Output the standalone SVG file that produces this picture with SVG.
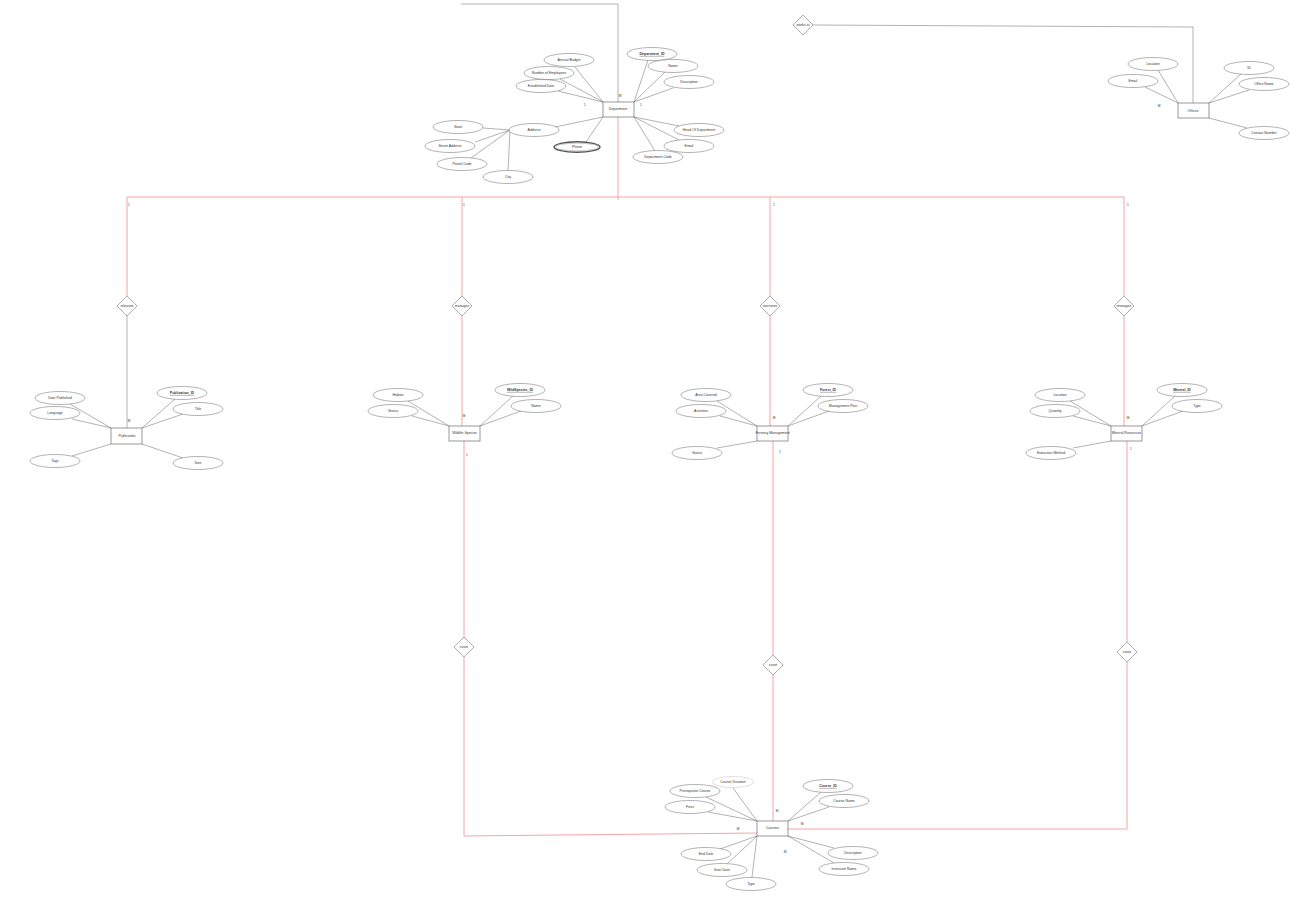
<svg xmlns="http://www.w3.org/2000/svg" width="1307" height="898" viewBox="0 0 1307 898">
<style>
text{font-family:"Liberation Sans",Arial,sans-serif;font-size:3.5px;fill:#333;text-anchor:middle;dominant-baseline:middle}
.ent rect{fill:#fff;stroke:#555;stroke-width:0.6}
.att{fill:#fff;stroke:#666;stroke-width:0.5}
.dia{fill:#fff;stroke:#777;stroke-width:0.6}
.ln{stroke:#666;stroke-width:0.5;fill:none}
.rd{stroke:#f59a9a;stroke-width:0.9;fill:none}
.key{text-decoration:underline;font-weight:bold}
.card{font-size:3.2px}
</style>
<rect width="1307" height="898" fill="#fff"/>
<g id="connectors">
<polyline class="ln" points="618,102 618,4 461,4"/>
<polyline class="ln" points="1193,103 1193,27 813,25"/>
<line class="rd" x1="618" y1="117" x2="618" y2="200"/>
<polyline class="rd" points="127,296 127,197 1124,197 1124,296"/>
<line class="rd" x1="462" y1="197" x2="462" y2="296"/>
<line class="rd" x1="770" y1="197" x2="770" y2="296"/>
<line class="ln" x1="127" y1="316" x2="127" y2="428"/>
<line class="rd" x1="462" y1="316" x2="462" y2="426"/>
<line class="rd" x1="770" y1="316" x2="770" y2="426"/>
<line class="rd" x1="1124" y1="316" x2="1124" y2="426"/>
<line class="rd" x1="464" y1="441" x2="464" y2="637"/>
<polyline class="rd" points="464,657 464,836 757,833"/>
<line class="rd" x1="773" y1="441" x2="773" y2="655"/>
<line class="rd" x1="773" y1="675" x2="773" y2="821"/>
<line class="rd" x1="1127" y1="441" x2="1127" y2="642"/>
<polyline class="rd" points="1127,662 1127,829 788,829"/>
<line class="ln" x1="575" y1="67" x2="603" y2="102"/>
<line class="ln" x1="560" y1="79" x2="603" y2="102"/>
<line class="ln" x1="558" y1="91" x2="603" y2="102"/>
<line class="ln" x1="648" y1="60" x2="634" y2="102"/>
<line class="ln" x1="665" y1="72" x2="634" y2="102"/>
<line class="ln" x1="673" y1="88" x2="634" y2="102"/>
<line class="ln" x1="679" y1="126" x2="634" y2="117"/>
<line class="ln" x1="679" y1="140" x2="634" y2="117"/>
<line class="ln" x1="655" y1="151" x2="634" y2="117"/>
<line class="ln" x1="586" y1="142" x2="603" y2="117"/>
<line class="ln" x1="555" y1="127" x2="603" y2="117"/>
<line class="ln" x1="510" y1="130" x2="483" y2="128"/>
<line class="ln" x1="510" y1="130" x2="475" y2="142"/>
<line class="ln" x1="510" y1="130" x2="471" y2="158"/>
<line class="ln" x1="510" y1="130" x2="508" y2="171"/>
<line class="ln" x1="1158" y1="70" x2="1178" y2="103"/>
<line class="ln" x1="1145" y1="87" x2="1178" y2="103"/>
<line class="ln" x1="1241" y1="74" x2="1209" y2="103"/>
<line class="ln" x1="1249" y1="90" x2="1209" y2="103"/>
<line class="ln" x1="1247" y1="128" x2="1209" y2="118"/>
<line class="ln" x1="70" y1="404" x2="111" y2="428"/>
<line class="ln" x1="72" y1="419" x2="111" y2="428"/>
<line class="ln" x1="175" y1="399" x2="142" y2="428"/>
<line class="ln" x1="183" y1="414" x2="142" y2="428"/>
<line class="ln" x1="72" y1="456" x2="111" y2="444"/>
<line class="ln" x1="183" y1="458" x2="142" y2="444"/>
<line class="ln" x1="408" y1="401" x2="449" y2="426"/>
<line class="ln" x1="412" y1="416" x2="449" y2="426"/>
<line class="ln" x1="513" y1="396" x2="480" y2="426"/>
<line class="ln" x1="521" y1="411" x2="480" y2="426"/>
<line class="ln" x1="717" y1="401" x2="757" y2="426"/>
<line class="ln" x1="720" y1="416" x2="757" y2="426"/>
<line class="ln" x1="821" y1="396" x2="788" y2="426"/>
<line class="ln" x1="829" y1="411" x2="788" y2="426"/>
<line class="ln" x1="717" y1="448" x2="757" y2="441"/>
<line class="ln" x1="1070" y1="401" x2="1111" y2="426"/>
<line class="ln" x1="1073" y1="416" x2="1111" y2="426"/>
<line class="ln" x1="1175" y1="396" x2="1142" y2="426"/>
<line class="ln" x1="1183" y1="411" x2="1142" y2="426"/>
<line class="ln" x1="1073" y1="448" x2="1111" y2="441"/>
<line class="ln" x1="733" y1="788" x2="757" y2="821"/>
<line class="ln" x1="706" y1="797" x2="757" y2="821"/>
<line class="ln" x1="708" y1="812" x2="757" y2="821"/>
<line class="ln" x1="821" y1="792" x2="788" y2="821"/>
<line class="ln" x1="829" y1="807" x2="788" y2="821"/>
<line class="ln" x1="720" y1="849" x2="757" y2="836"/>
<line class="ln" x1="727" y1="864" x2="757" y2="836"/>
<line class="ln" x1="752" y1="877" x2="757" y2="836"/>
<line class="ln" x1="834" y1="848" x2="788" y2="836"/>
<line class="ln" x1="834" y1="863" x2="788" y2="836"/>
<text class="card" x="620" y="96">M</text>
<text class="card" x="585" y="105">1</text>
<text class="card" x="641" y="105">1</text>
<text class="card" x="1159" y="106">M</text>
<text class="card" x="129" y="205">1</text>
<text class="card" x="464" y="205">1</text>
<text class="card" x="774" y="205">1</text>
<text class="card" x="1128" y="205">1</text>
<text class="card" x="129" y="421">M</text>
<text class="card" x="464" y="416">M</text>
<text class="card" x="467" y="455">1</text>
<text class="card" x="774" y="418">M</text>
<text class="card" x="780" y="452">1</text>
<text class="card" x="1128" y="418">M</text>
<text class="card" x="1131" y="449">1</text>
<text class="card" x="738" y="829">M</text>
<text class="card" x="777" y="811">M</text>
<text class="card" x="802" y="824">M</text>
<text class="card" x="785" y="852">M</text>
</g>
<g id="rel-works-at"><polygon class="dia" points="803,15 813,25 803,35 793,25"/><text x="803" y="25">works at</text></g>
<g id="rel-releases"><polygon class="dia" points="127,296 137,306 127,316 117,306"/><text x="127" y="306" font-size="3">releases</text></g>
<g id="rel-manages-1"><polygon class="dia" points="462,296 472,306 462,316 452,306"/><text x="462" y="306" font-size="3">manages</text></g>
<g id="rel-oversees"><polygon class="dia" points="770,296 780,306 770,316 760,306"/><text x="770" y="306" font-size="3">oversees</text></g>
<g id="rel-manages-2"><polygon class="dia" points="1124,296 1134,306 1124,316 1114,306"/><text x="1124" y="306" font-size="3">manages</text></g>
<g id="rel-cover-1"><polygon class="dia" points="464,637 474,647 464,657 454,647"/><text x="464" y="647" font-size="3">cover</text></g>
<g id="rel-cover-2"><polygon class="dia" points="773,655 783,665 773,675 763,665"/><text x="773" y="665" font-size="3">cover</text></g>
<g id="rel-cover-3"><polygon class="dia" points="1127,642 1137,652 1127,662 1117,652"/><text x="1127" y="652" font-size="3">cover</text></g>
<g id="department" class="ent"><rect x="603" y="102" width="31" height="15"/><text x="618" y="109.5">Department</text></g>
<g id="dept-attrs">
<ellipse class="att" cx="569" cy="60" rx="25" ry="6.5"/><text x="569" y="60">Annual Budget</text>
<ellipse class="att" cx="549" cy="73" rx="25" ry="6.5"/><text x="549" y="73">Number of Employees</text>
<ellipse class="att" cx="541" cy="86" rx="25" ry="6.5"/><text x="541" y="86">Established Date</text>
<ellipse class="att" cx="652" cy="54" rx="25" ry="6.5"/><text class="key" x="652" y="54">Department_ID</text>
<ellipse class="att" cx="673" cy="66" rx="25" ry="6.5"/><text x="673" y="66">Name</text>
<ellipse class="att" cx="689" cy="82" rx="25" ry="6.5"/><text x="689" y="82">Description</text>
<ellipse class="att" cx="699" cy="130" rx="25" ry="6.5"/><text x="699" y="130">Head Of Department</text>
<ellipse class="att" cx="689" cy="146" rx="25" ry="6.5"/><text x="689" y="146">Email</text>
<ellipse class="att" cx="658" cy="157" rx="25" ry="6.5"/><text x="658" y="157">Department Code</text>
<ellipse cx="577" cy="147" rx="23" ry="5.2" fill="#fff" stroke="#555" stroke-width="1.4"/><ellipse cx="577" cy="147" rx="21.4" ry="3.8" fill="none" stroke="#999" stroke-width="0.5"/><text x="577" y="147">Phone</text>
<ellipse class="att" cx="534" cy="130" rx="25" ry="6.5"/><text x="534" y="130">Address</text>
<ellipse class="att" cx="458" cy="127" rx="25" ry="6.5"/><text x="458" y="127">State</text>
<ellipse class="att" cx="450" cy="146" rx="25" ry="6.5"/><text x="450" y="146">Street Address</text>
<ellipse class="att" cx="462" cy="164" rx="25" ry="6.5"/><text x="462" y="164">Postal Code</text>
<ellipse class="att" cx="508" cy="177" rx="25" ry="6.5"/><text x="508" y="177">City</text>
</g>
<g id="offices" class="ent"><rect x="1178" y="103" width="31" height="15"/><text x="1193" y="111">Offices</text></g>
<g id="offices-attrs">
<ellipse class="att" cx="1153" cy="64" rx="25" ry="6.5"/><text x="1153" y="64">Location</text>
<ellipse class="att" cx="1133" cy="81" rx="25" ry="6.5"/><text x="1133" y="81">Email</text>
<ellipse class="att" cx="1249" cy="68" rx="25" ry="6.5"/><text x="1249" y="68">ID</text>
<ellipse class="att" cx="1264" cy="84" rx="25" ry="6.5"/><text x="1264" y="84">Office Name</text>
<ellipse class="att" cx="1264" cy="133" rx="25" ry="6.5"/><text x="1264" y="133">Contact Number</text>
</g>
<g id="publication" class="ent"><rect x="111" y="428" width="31" height="16"/><text x="127" y="436">Publication</text></g>
<g id="publication-attrs">
<ellipse class="att" cx="60" cy="398" rx="25" ry="6.5"/><text x="60" y="398">Date Published</text>
<ellipse class="att" cx="55" cy="413" rx="25" ry="6.5"/><text x="55" y="413">Language</text>
<ellipse class="att" cx="182" cy="393" rx="25" ry="6.5"/><text class="key" x="182" y="393">Publication_ID</text>
<ellipse class="att" cx="198" cy="409" rx="25" ry="6.5"/><text x="198" y="409">Title</text>
<ellipse class="att" cx="55" cy="461" rx="25" ry="6.5"/><text x="55" y="461">Tags</text>
<ellipse class="att" cx="198" cy="463" rx="25" ry="6.5"/><text x="198" y="463">Size</text>
</g>
<g id="wildlife" class="ent"><rect x="449" y="426" width="31" height="15"/><text x="464.5" y="433.5">Wildlife Species</text></g>
<g id="wildlife-attrs">
<ellipse class="att" cx="398" cy="395" rx="25" ry="6.5"/><text x="398" y="395">Habitat</text>
<ellipse class="att" cx="393" cy="411" rx="25" ry="6.5"/><text x="393" y="411">Status</text>
<ellipse class="att" cx="520" cy="390" rx="25" ry="6.5"/><text class="key" x="520" y="390">WildSpecies_ID</text>
<ellipse class="att" cx="536" cy="406" rx="25" ry="6.5"/><text x="536" y="406">Name</text>
</g>
<g id="forestry" class="ent"><rect x="757" y="426" width="31" height="15"/><text x="772.5" y="433.5">Forestry Management</text></g>
<g id="forestry-attrs">
<ellipse class="att" cx="706" cy="395" rx="25" ry="6.5"/><text x="706" y="395">Area Covered</text>
<ellipse class="att" cx="701" cy="411" rx="25" ry="6.5"/><text x="701" y="411">Activities</text>
<ellipse class="att" cx="828" cy="390" rx="25" ry="6.5"/><text class="key" x="828" y="390">Forest_ID</text>
<ellipse class="att" cx="843" cy="406" rx="25" ry="6.5"/><text x="843" y="406">Management Plan</text>
<ellipse class="att" cx="697" cy="453" rx="25" ry="6.5"/><text x="697" y="453">Status</text>
</g>
<g id="mineral" class="ent"><rect x="1111" y="426" width="31" height="15"/><text x="1126.5" y="433.5">Mineral Resources</text></g>
<g id="mineral-attrs">
<ellipse class="att" cx="1060" cy="395" rx="25" ry="6.5"/><text x="1060" y="395">Location</text>
<ellipse class="att" cx="1055" cy="411" rx="25" ry="6.5"/><text x="1055" y="411">Quantity</text>
<ellipse class="att" cx="1182" cy="390" rx="25" ry="6.5"/><text class="key" x="1182" y="390">Mineral_ID</text>
<ellipse class="att" cx="1197" cy="406" rx="25" ry="6.5"/><text x="1197" y="406">Type</text>
<ellipse class="att" cx="1051" cy="453" rx="25" ry="6.5"/><text x="1051" y="453">Extraction Method</text>
</g>
<g id="courses" class="ent"><rect x="757" y="821" width="31" height="15"/><text x="772.5" y="828.5">Courses</text></g>
<g id="courses-attrs">
<ellipse cx="733" cy="782" rx="20.5" ry="5.5" fill="#fff" stroke="#999" stroke-width="0.5" stroke-dasharray="1 0.6"/><text x="733" y="782">Course Duration</text>
<ellipse class="att" cx="695" cy="791" rx="25" ry="6.5"/><text x="695" y="791">Prerequisite Course</text>
<ellipse class="att" cx="690" cy="807" rx="25" ry="6.5"/><text x="690" y="807">Fees</text>
<ellipse class="att" cx="828" cy="786" rx="25" ry="6.5"/><text class="key" x="828" y="786">Course_ID</text>
<ellipse class="att" cx="844" cy="801" rx="25" ry="6.5"/><text x="844" y="801">Course Name</text>
<ellipse class="att" cx="706" cy="854" rx="25" ry="6.5"/><text x="706" y="854">End Date</text>
<ellipse class="att" cx="722" cy="870" rx="25" ry="6.5"/><text x="722" y="870">Start Date</text>
<ellipse class="att" cx="751" cy="884" rx="25" ry="6.5"/><text x="751" y="884">Type</text>
<ellipse class="att" cx="853" cy="853" rx="25" ry="6.5"/><text x="853" y="853">Description</text>
<ellipse class="att" cx="844" cy="869" rx="25" ry="6.5"/><text x="844" y="869">Instructor Name</text>
</g>
</svg>
